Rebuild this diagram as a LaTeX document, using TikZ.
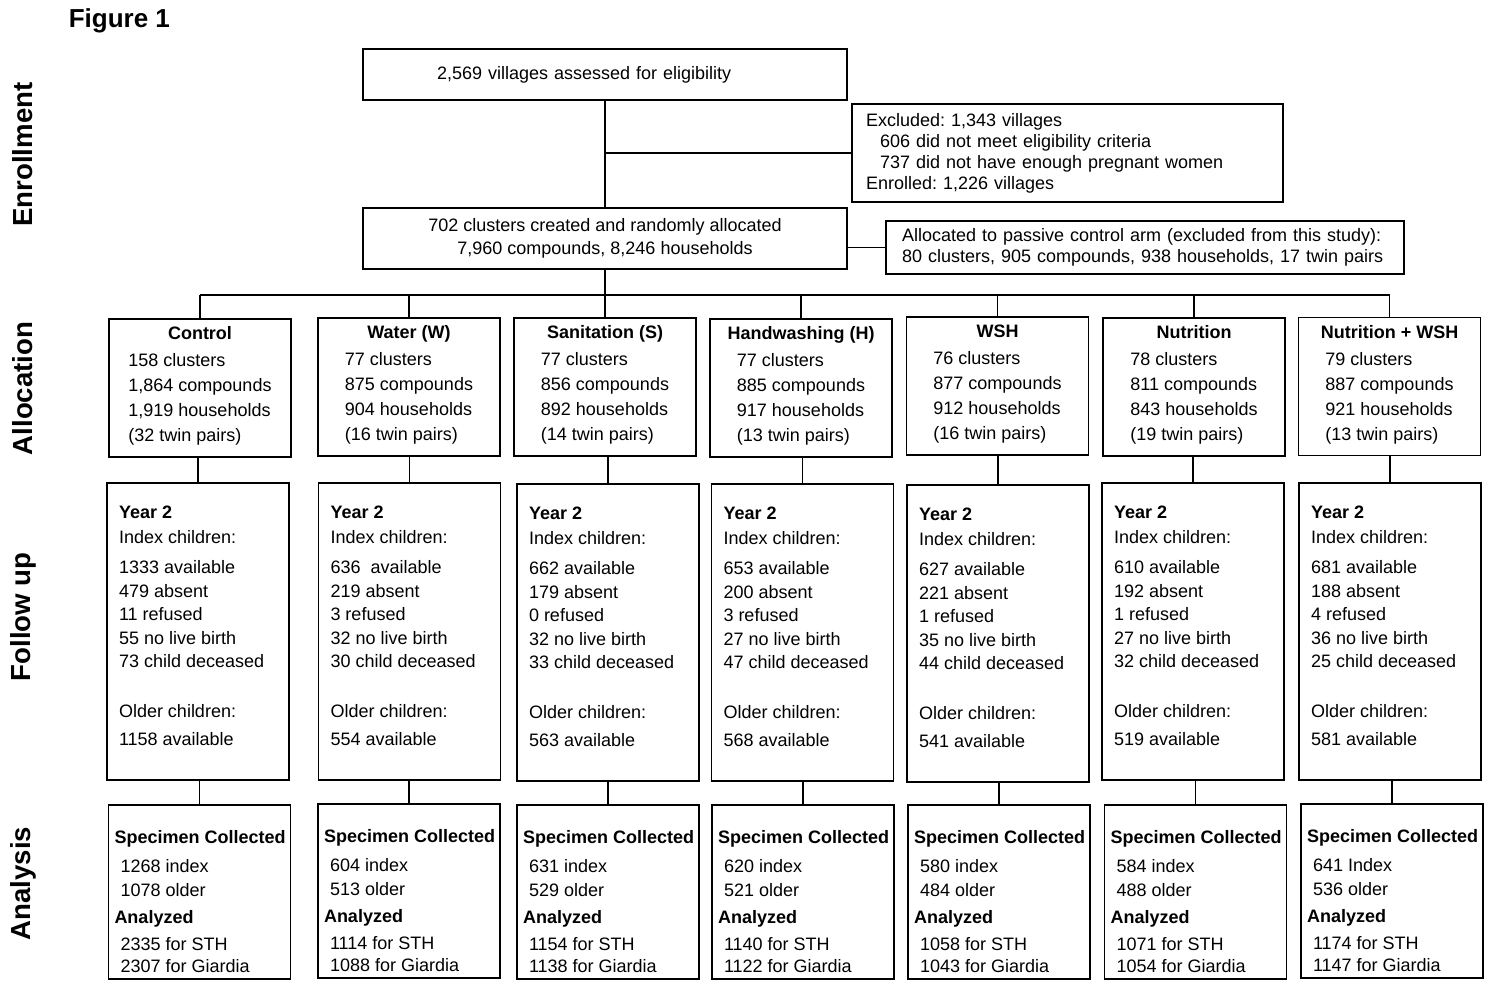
\documentclass[tikz,border=0pt]{standalone}
\usepackage{fontspec}
\setmainfont{Liberation Sans}
\frenchspacing
\usetikzlibrary{calc}

\tikzset{box/.style = {draw, inner sep=3pt, font=\fontsize{9}{11.5}\selectfont}}
\tikzset{armbox/.style = {box, minimum width=91pt, minimum height=69pt, align=center, font=\fontsize{9}{12.5}\selectfont}}
\tikzset{fubox/.style = {box, anchor=north, inner sep=0pt, font=\fontsize{9}{11.75}\selectfont}}
\tikzset{anbox/.style = {box, anchor=north, inner sep=0pt, font=\fontsize{9}{12}\selectfont}}
\tikzset{stage/.style = {rotate=90, font=\fontsize{13.8}{16}\selectfont\bfseries}}

\newcommand{\allocText}[5]{\textbf{#1}\\[1pt]\begin{tabular}[t]{@{}l@{}}#2 clusters\\#3 compounds\\#4 households\\(#5 twin pairs)\end{tabular}}
\newcommand{\followText}[6]{\begin{minipage}[c][148.5pt][t]{91pt}\raggedright\leftskip=6pt
\rule{0pt}{18pt}\textbf{Year 2}\\[0.75pt]
Index children:\\[3.25pt]
#1 available\\ #2 absent\\ #3 refused\\ #4 no live birth\\ #5 child deceased\\[13.25pt]
Older children:\\[2.25pt]
#6 available\end{minipage}}
\newcommand{\analysisText}[4]{\begin{minipage}[c][87pt][t]{91pt}\raggedright\leftskip=3pt
\rule{0pt}{19.5pt}\textbf{Specimen Collected}\\[2.5pt]
\hspace*{3pt}#1\\ \hspace*{3pt}#2\\[1.5pt]
\textbf{Analyzed}\\[1.5pt]
\hspace*{3pt}#3\\[-1pt] \hspace*{3pt}#4\end{minipage}}

\begin{document}
\begin{tikzpicture}[x=0.5pt, y=-0.5pt, line width=0.75pt]
\useasboundingbox (0,0) rectangle (1487,980);

% title and stages
\node[anchor=base west, inner sep=0pt, font=\fontsize{13}{15}\selectfont\bfseries] (fig) at (68,27) {Figure 1};
\node[stage] (enrol) at (23,154.5) {Enrollment};
\node[stage] (alloc) at (23,388.5) {Allocation};
\node[stage] (follow) at (23,617) {Follow up};
\node[stage] (anal) at (23,883.5) {Analysis};

% enrollment
\node[box, align=left, text width=228pt, inner xsep=7pt, minimum height=25.5pt] (assess) at (605,74.5) {\hspace*{30pt}2,569 villages assessed for eligibility};
\node[box, font=\fontsize{9}{10.5}\selectfont, align=left, text width=201.5pt, inner xsep=7pt, minimum height=49pt] (excl) at (1067.5,153)
  {Excluded: 1,343 villages\\ \hspace*{7pt}606 did not meet eligibility criteria\\ \hspace*{7pt}737 did not have enough pregnant women\\ Enrolled: 1,226 villages};
\node[box, minimum width=242pt, minimum height=30.5pt, align=center] (clusters) at (605,238.5)
  {702 clusters created and randomly allocated\\ 7,960 compounds, 8,246 households};
\node[box, font=\fontsize{9}{10.5}\selectfont, align=left, text width=243pt, inner xsep=8pt, minimum height=26.5pt] (passive) at (1145,247.5)
  {Allocated to passive control arm (excluded from this study):\\ 80 clusters, 905 compounds, 938 households, 17 twin pairs};

\draw (assess) -- (clusters);
\draw (assess.south |- excl.west) -- (excl.west);
\draw (clusters.east |- passive.west) -- (passive.west);
\coordinate (bus) at (605,295);
\draw (clusters) -- (bus);

% allocation
\node[armbox] (a1) at (200,388) {\allocText{Control}{158}{1,864}{1,919}{32}};
\node[armbox] (a2) at (409,387) {\allocText{Water (W)}{77}{875}{904}{16}};
\node[armbox] (a3) at (605,387) {\allocText{Sanitation (S)}{77}{856}{892}{14}};
\node[armbox] (a4) at (801,388) {\allocText{Handwashing (H)}{77}{885}{917}{13}};
\node[armbox] (a5) at (997.5,386) {\allocText{WSH}{76}{877}{912}{16}};
\node[armbox] (a6) at (1194,387) {\allocText{Nutrition}{78}{811}{843}{19}};
\node[armbox] (a7) at (1389.5,386.5) {\allocText{Nutrition + WSH}{79}{887}{921}{13}};

% follow up
\node[fubox] (f1) at (198,482) {\followText{1333}{479}{11}{55}{73}{1158}};
\node[fubox] (f2) at (409.5,482) {\followText{636\ }{219}{3}{32}{30}{554}};
\node[fubox] (f3) at (608,483) {\followText{662}{179}{0}{32}{33}{563}};
\node[fubox] (f4) at (802.5,483) {\followText{653}{200}{3}{27}{47}{568}};
\node[fubox] (f5) at (998,484) {\followText{627}{221}{1}{35}{44}{541}};
\node[fubox] (f6) at (1193,482) {\followText{610}{192}{1}{27}{32}{519}};
\node[fubox] (f7) at (1390,482) {\followText{681}{188}{4}{36}{25}{581}};

% analysis
\node[anbox] (n1) at (199.5,804) {\analysisText{1268 index}{1078 older}{2335 for STH}{2307 for Giardia}};
\node[anbox] (n2) at (409,803) {\analysisText{604 index}{513 older}{1114 for STH}{1088 for Giardia}};
\node[anbox] (n3) at (608,804) {\analysisText{631 index}{529 older}{1154 for STH}{1138 for Giardia}};
\node[anbox] (n4) at (803,804) {\analysisText{620 index}{521 older}{1140 for STH}{1122 for Giardia}};
\node[anbox] (n5) at (999,804) {\analysisText{580 index}{484 older}{1058 for STH}{1043 for Giardia}};
\node[anbox] (n6) at (1195.5,804) {\analysisText{584 index}{488 older}{1071 for STH}{1054 for Giardia}};
\node[anbox] (n7) at (1392,803) {\analysisText{641 Index}{536 older}{1174 for STH}{1147 for Giardia}};

\draw (a1.north |- bus) -- (a7.north |- bus);
\foreach \i in {1,...,7} {
  \draw (a\i.north |- bus) -- (a\i.north);
  \draw (f\i.north) -- (f\i.north |- a\i.south);
  \draw (n\i.north) -- (n\i.north |- f\i.south);
}
\end{tikzpicture}
\end{document}
